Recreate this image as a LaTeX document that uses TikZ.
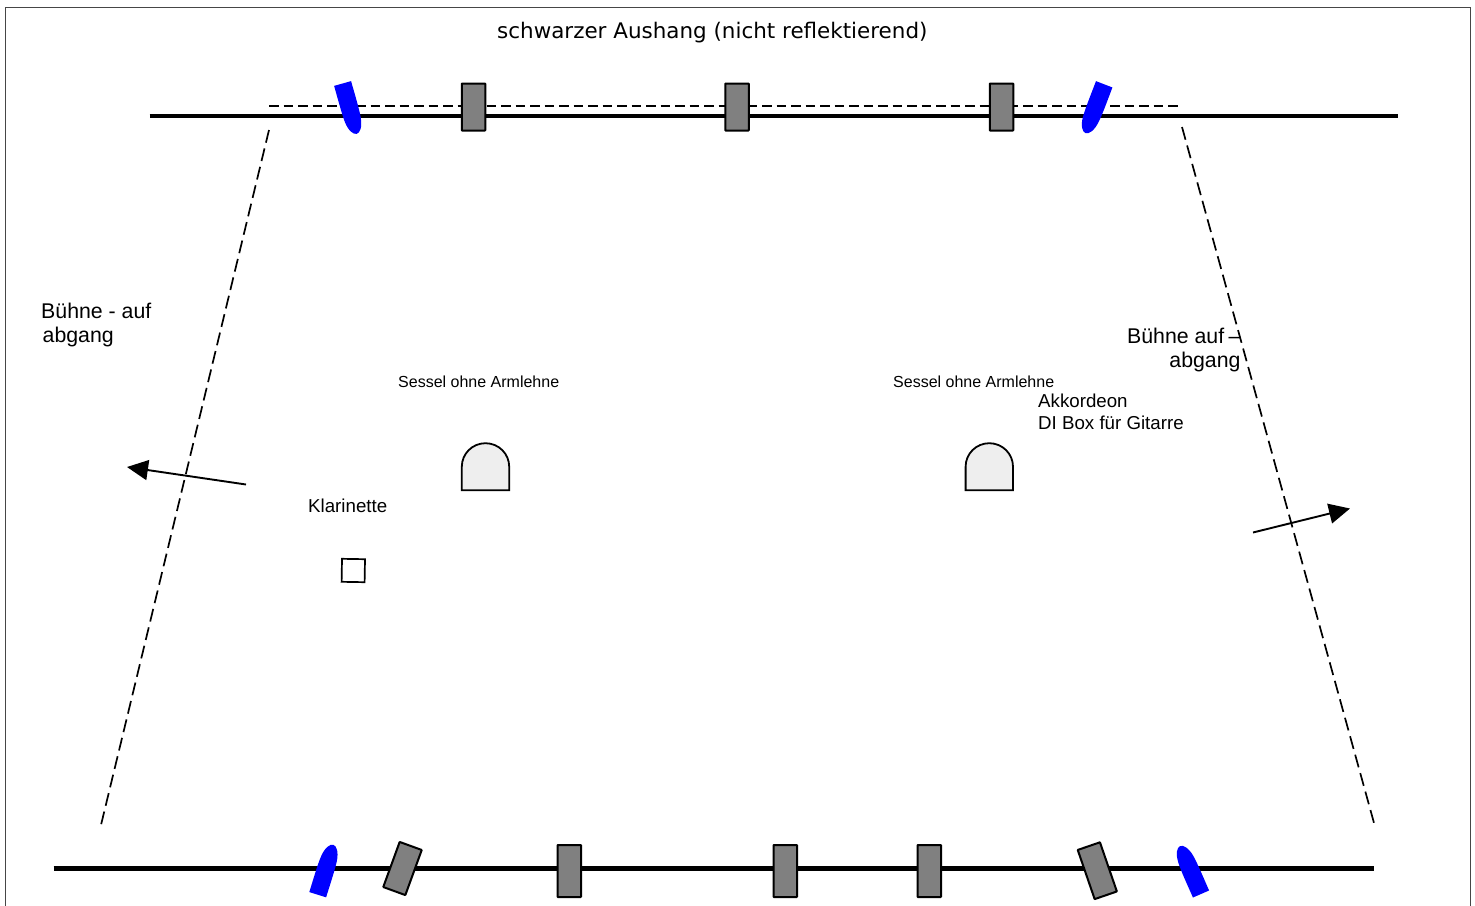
\documentclass[tikz,border=0pt]{standalone}
\usepackage{fontspec}
\setmainfont{Liberation Sans}
\newfontfamily\titlefont{DejaVu Sans}
\usetikzlibrary{arrows.meta}
\definecolor{standgray}{RGB}{128,128,128}
\definecolor{chairfill}{RGB}{238,238,238}
\definecolor{framegray}{RGB}{70,70,70}
\definecolor{lampblue}{RGB}{0,0,255}
\tikzset{
  x=1pt,y=-1pt,
  framestyle/.style={draw=framegray,line width=1pt},
  railline/.style={draw=black,line width=4.4pt},
  dashtop/.style={draw=black,line width=1.7pt,dash pattern=on 9.5pt off 5pt},
  dashleft/.style={draw=black,line width=1.7pt,dash pattern=on 13pt off 5.95pt},
  dashright/.style={draw=black,line width=1.7pt,dash pattern=on 13.15pt off 6pt},
  movearrow/.style={draw=black,line width=1.9pt,-{Triangle[length=21pt,width=20pt]}},
  standbox/.style={draw=black,fill=standgray,line width=2pt,minimum width=23.5pt,minimum height=47pt,inner sep=0pt,outer sep=0pt,rounded corners=0.5pt},
  clarbox/.style={draw=black,fill=white,line width=1.7pt,minimum width=23pt,minimum height=23pt,inner sep=0pt,rotate=-1},
  chairshape/.style={draw=black,fill=chairfill,line width=1.8pt},
  lampshape/.style={fill=lampblue,draw=none},
  label20/.style={font=\fontsize{21.3}{24.8}\selectfont,inner sep=0pt,align=left},
  label18/.style={font=\fontsize{18.7}{22}\selectfont,inner sep=0pt,anchor=west},
  label16/.style={font=\fontsize{16}{19}\selectfont,inner sep=0pt,anchor=west},
}
\newcommand{\lamp}[3]{%
  \fill[lampshape,shift={(#1,#2)},rotate=#3]
    (-8.8,0) -- (8.8,0) .. controls (8.8,14) and (9.2,30) .. (8.2,38)
    .. controls (7.2,47) and (3.5,52.3) .. (0,52.3)
    .. controls (-3.5,52.3) and (-7.2,47) .. (-8.2,38)
    .. controls (-9,30) and (-8.8,14) .. cycle;}
\newcommand{\chair}[2]{%
  \draw[chairshape,shift={(#1,#2)}]
    (0,47) -- (0,23.5) arc[start angle=180,end angle=0,x radius=23.7,y radius=-23.5] -- (47.4,47) -- cycle;}
\begin{document}
\begin{tikzpicture}
\useasboundingbox (0,0) rectangle (1475,905);
\clip (0,0) rectangle (1475,905);
\coordinate (fa) at (5.5,930);
\coordinate (fb) at (5.5,7.5);
\coordinate (fc) at (1470,7.5);
\coordinate (fd) at (1470,930);
\draw[framestyle] (fa) -- (fb) -- (fc) -- (fd);

\coordinate (rtl) at (149.5,116);
\coordinate (rtr) at (1397.5,116);
\coordinate (rbl) at (53.5,868.5);
\coordinate (rbr) at (1374,868.5);
\coordinate (dtl) at (269,106);
\coordinate (dtr) at (1179,106);
\coordinate (dla) at (269,130);
\coordinate (dlb) at (101,825);
\coordinate (dra) at (1182,127);
\coordinate (drb) at (1374,823);
\coordinate (ala) at (246,484.5);
\coordinate (alb) at (127,467);
\coordinate (ara) at (1253,532.5);
\coordinate (arb) at (1350,508.5);

\draw[dashtop] (dtl) -- (dtr);
\draw[railline] (rtl) -- (rtr);
\draw[railline] (rbl) -- (rbr);
\draw[dashleft] (dla) -- (dlb);
\draw[dashright] (dra) -- (drb);
\draw[movearrow] (ala) -- (alb);
\draw[movearrow] (ara) -- (arb);

\lamp{342.6}{83.5}{15.7}
\lamp{1104.2}{84.3}{-21}
\lamp{317.7}{894.7}{162.6}
\lamp{1201}{894}{203.6}

\node[standbox] (st1) at (473.5,107) {};
\node[standbox] (st2) at (737,107) {};
\node[standbox] (st3) at (1001.5,107) {};
\node[standbox,minimum height=52pt] (sb1) at (569.3,871) {};
\node[standbox,minimum height=52pt] (sb2) at (785.3,871) {};
\node[standbox,minimum height=52pt] (sb3) at (929.3,871) {};
\node[standbox,minimum height=48pt,rotate=-20] (sb4) at (402.5,868.5) {};
\node[standbox,minimum height=52pt,rotate=19] (sb5) at (1097.3,870.7) {};

\chair{461.8}{443.2}
\chair{965.6}{443.2}
\node[clarbox] (clar) at (353.3,570.5) {};

\node[font=\titlefont\fontsize{21.45}{25}\selectfont,inner sep=0pt,anchor=west] (title) at (497,33) {schwarzer Aushang (nicht reflektierend)};
\node[label20,anchor=north west] (buehnel) at (41,302.5) {Bühne - auf\\\hspace*{1.5pt}abgang};
\node[label20,anchor=north east,align=right] (buehner) at (1240.7,327.5) {Bühne auf\kern-1.5pt\ –\\abgang};
\node[label16] (sessl) at (398,381.5) {Sessel ohne Armlehne};
\node[label16] (sessr) at (893,381.5) {Sessel ohne Armlehne};
\node[label18] (akk) at (1038,400.5) {Akkordeon};
\node[label18] (di) at (1038,423) {DI Box für Gitarre};
\node[label18] (klar) at (308,505.5) {Klarinette};
\end{tikzpicture}
\end{document}
